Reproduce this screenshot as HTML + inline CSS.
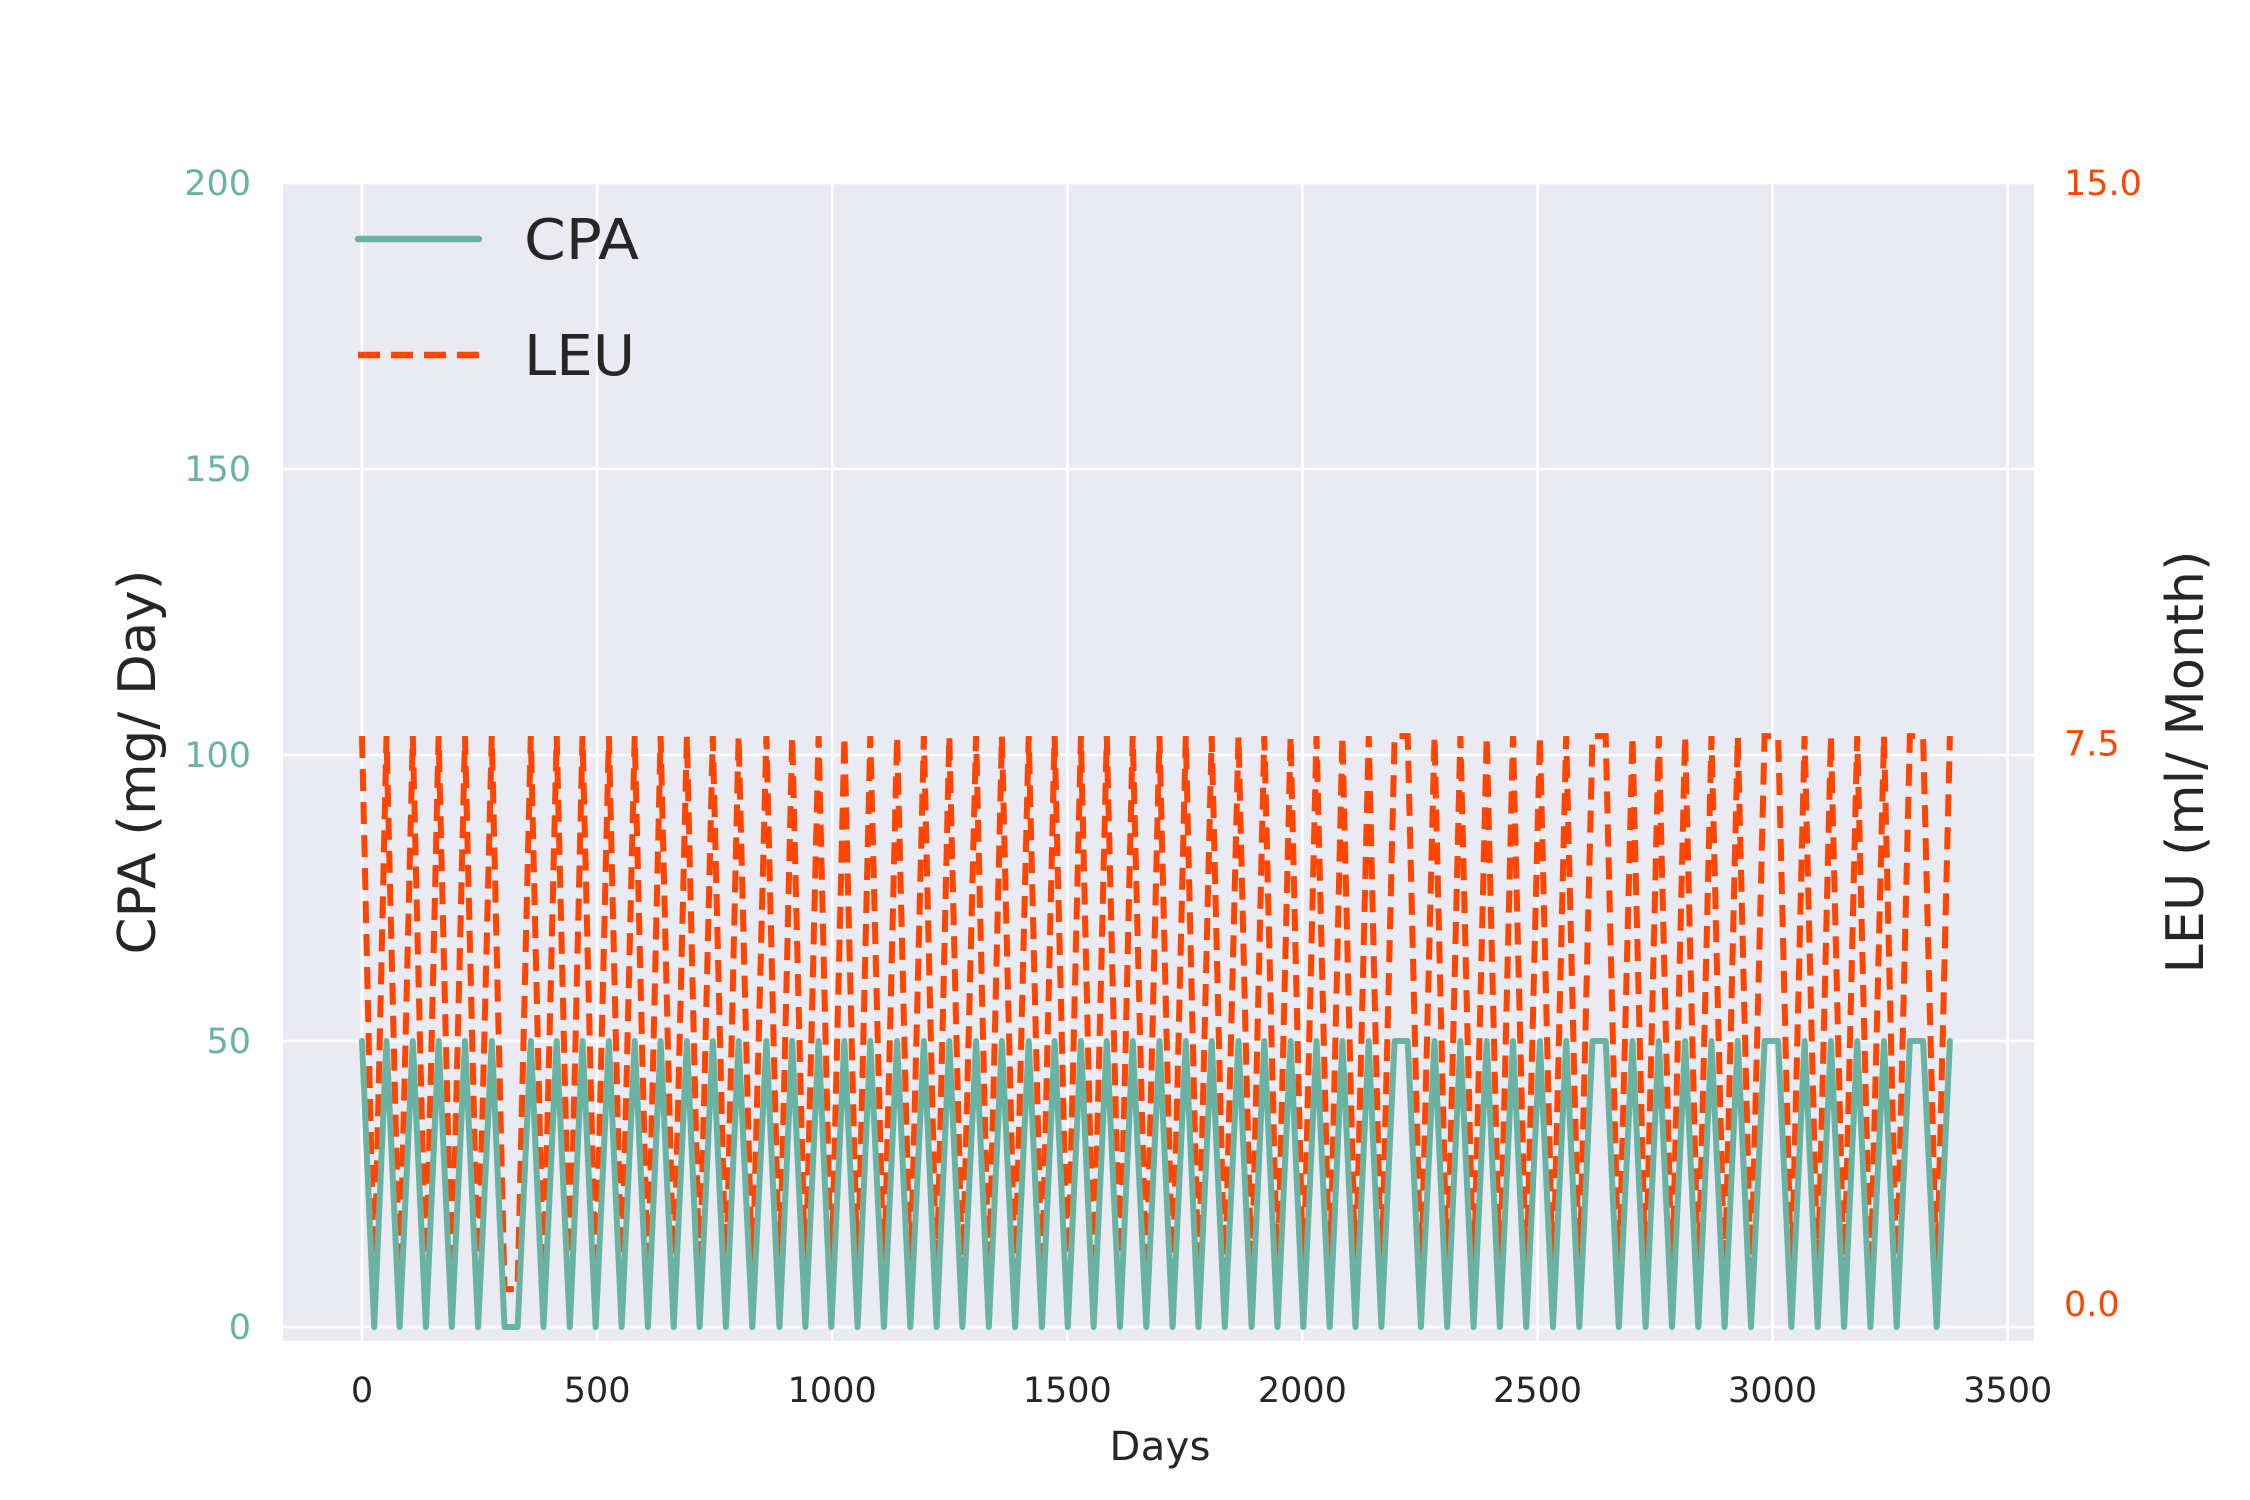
<!DOCTYPE html>
<html><head><meta charset="utf-8"><style>
html,body{margin:0;padding:0;background:#fff;}
svg{display:block;font-family:"DejaVu Sans","Liberation Sans",sans-serif;}
</style></head><body>
<svg id="chart" width="2250" height="1500" viewBox="0 0 2250 1500">
<rect x="283" y="183" width="1751" height="1158" fill="#EAEAF2"/>
<g id="grid"></g>
<g id="series"></g>
<g id="axes"></g>
<text x="1160" y="1460" text-anchor="middle" font-size="40" fill="#262626" textLength="101">Days</text>
<text transform="translate(155,762) rotate(-90)" text-anchor="middle" font-size="52" fill="#262626" textLength="385" lengthAdjust="spacingAndGlyphs">CPA (mg/ Day)</text>
<text transform="translate(2203,762) rotate(-90)" text-anchor="middle" font-size="52" fill="#262626" textLength="423" lengthAdjust="spacingAndGlyphs">LEU (ml/ Month)</text>
<g>
<line x1="358" y1="239" x2="479" y2="239" stroke="#69b3a2" stroke-width="6.5" stroke-linecap="round"/>
<text x="524" y="259" font-size="56" fill="#262626" textLength="115" lengthAdjust="spacingAndGlyphs">CPA</text>
<line x1="358" y1="355" x2="479" y2="355" stroke="#ff4500" stroke-width="6.5" stroke-dasharray="22 11"/>
<text x="524" y="375" font-size="56" fill="#262626" textLength="111" lengthAdjust="spacingAndGlyphs">LEU</text>
</g>
</svg>
<script>
const xTicks = [0,500,1000,1500,2000,2500,3000,3500];
const leftTicks = [0,50,100,150,200];
const rightTicks = [0.0,7.5,15.0];
const rightTickLabels = ["0.0","7.5","15.0"];
const cpaDays = [
0,26,52,80,108,136,163,191,219,247,276,
303,331,
359,386,414,442,469,497,525,552,580,608,
635,663,691,718,746,774,801,830,860,888,
915,943,971,998,1026,1054,1081,1110,1138,1166,
1195,1222,1249,1277,1306,1333,1361,1389,1418,1446,
1473,1501,1529,1556,1584,1612,1639,1668,1696,1724,
1752,1779,1807,1835,1864,1892,1919,1947,1975,2002,
2030,2058,2085,2113,2141,2168,
2196,2224,
2252,2281,2308,2336,2364,2392,2420,2448,2476,2505,2533,2561,2589,
2617,2645,
2673,2702,2730,2758,2786,2814,2842,2870,2898,2926,2954,
2983,3012,
3040,3068,3096,3124,3152,3180,3208,3237,3264,
3292,3320,
3349,3377];
const cpaValues = [
50,0,50,0,50,0,50,0,50,0,50,
0,0,
50,0,50,0,50,0,50,0,50,0,
50,0,50,0,50,0,50,0,50,0,
50,0,50,0,50,0,50,0,50,0,
50,0,50,0,50,0,50,0,50,0,
50,0,50,0,50,0,50,0,50,0,
50,0,50,0,50,0,50,0,50,0,
50,0,50,0,50,0,
50,50,
0,50,0,50,0,50,0,50,0,50,0,50,0,
50,50,
0,50,0,50,0,50,0,50,0,50,0,
50,50,
0,50,0,50,0,50,0,50,0,
50,50,
0,50];
const leuDays = cpaDays.slice();
const leuValues = [
7.6,0.2,7.6,0.2,7.6,0.2,7.6,0.2,7.6,0.2,7.6,
0.2,0.2,
7.6,0.2,7.6,0.2,7.6,0.2,7.6,0.2,7.6,0.2,
7.6,0.2,7.6,0.2,7.6,0.2,7.6,0.2,7.6,0.2,
7.6,0.2,7.6,0.2,7.6,0.2,7.6,0.2,7.6,0.2,
7.6,0.2,7.6,0.2,7.6,0.2,7.6,0.2,7.6,0.2,
7.6,0.2,7.6,0.2,7.6,0.2,7.6,0.2,7.6,0.2,
7.6,0.2,7.6,0.2,7.6,0.2,7.6,0.2,7.6,0.2,
7.6,0.2,7.6,0.2,7.6,0.2,
7.6,7.6,
0.2,7.6,0.2,7.6,0.2,7.6,0.2,7.6,0.2,7.6,0.2,7.6,0.2,
7.6,7.6,
0.2,7.6,0.2,7.6,0.2,7.6,0.2,7.6,0.2,7.6,0.2,
7.6,7.6,
0.2,7.6,0.2,7.6,0.2,7.6,0.2,7.6,0.2,
7.6,7.6,
0.2,7.6];

const NS = "http://www.w3.org/2000/svg";
function xScale(d){ return 362 + d * 0.4702; }
function yLeft(v){ return 1327 - v * 5.72; }
function yRight(v){ return 1304 - v * 74.73; }
const grid = document.getElementById('grid');
const axes = document.getElementById('axes');
const series = document.getElementById('series');
function mk(tag, attrs, parent){ const e = document.createElementNS(NS, tag); for (const k in attrs) e.setAttribute(k, attrs[k]); parent.appendChild(e); return e; }

xTicks.forEach(t => {
  const x = xScale(t);
  const gl = mk('line', {x1:x, x2:x, y1:183, y2:1341, stroke:'#fff', 'stroke-width':2.5}, grid);
  
  
  const tx = mk('text', {x:x, y:1402, 'text-anchor':'middle', 'font-size':35, fill:'#262626'}, axes);
  tx.textContent = String(t);
  
  
});
leftTicks.forEach(t => {
  const y = yLeft(t);
  const gl = mk('line', {x1:283, x2:2034, y1:y, y2:y, stroke:'#fff', 'stroke-width':2.5}, grid);
  
  
  const tx = mk('text', {x:251, y:y + 12, 'text-anchor':'end', 'font-size':35, fill:'#69b3a2'}, axes);
  tx.textContent = String(t);
  
  
});
rightTicks.forEach((t, i) => {
  const y = yRight(t);
  const tx = mk('text', {x:2064, y:y + 12, 'text-anchor':'start', 'font-size':35, fill:'#ff4500'}, axes);
  tx.textContent = rightTickLabels[i];
  
  
});

const leuPts = leuDays.map((d, i) => xScale(d).toFixed(1) + ',' + yRight(leuValues[i]).toFixed(1)).join(' ');
const leu = mk('polyline', {points:leuPts, fill:'none', stroke:'#ff4500', 'stroke-width':6, 'stroke-dasharray':'22 11', 'stroke-linejoin':'miter'}, series);



const cpaPts = cpaDays.map((d, i) => xScale(d).toFixed(1) + ',' + yLeft(cpaValues[i]).toFixed(1)).join(' ');
const cpa = mk('polyline', {points:cpaPts, fill:'none', stroke:'#69b3a2', 'stroke-width':6, 'stroke-linejoin':'round', 'stroke-linecap':'round'}, series);


</script>
</body></html>
